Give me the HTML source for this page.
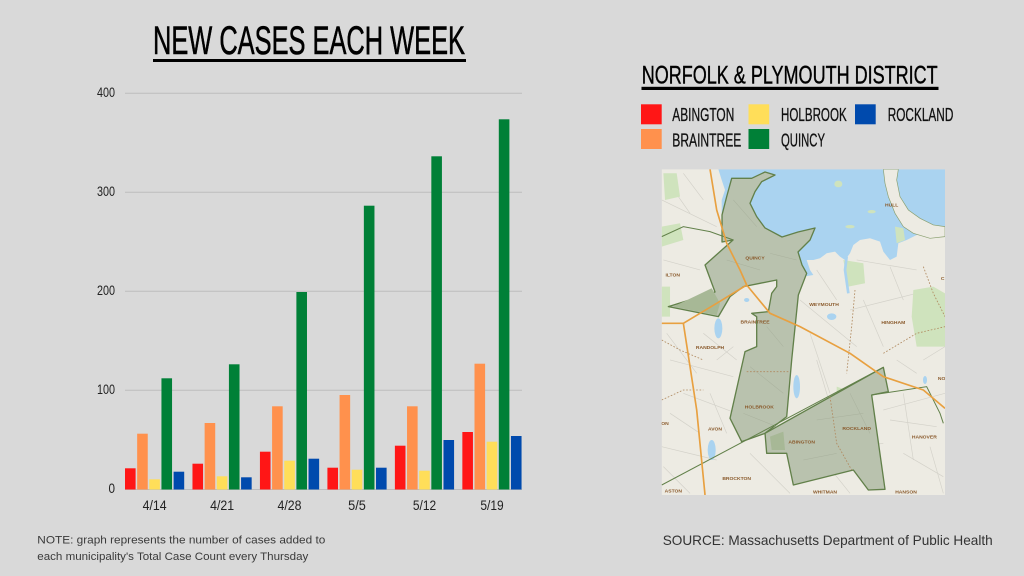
<!DOCTYPE html>
<html>
<head>
<meta charset="utf-8">
<style>
html,body{margin:0;padding:0;background:#d9d9d9;}
svg{display:block;}
</style>
</head>
<body>
<svg xmlns="http://www.w3.org/2000/svg" width="1024" height="576" viewBox="0 0 1024 576">
<rect width="1024" height="576" fill="#d9d9d9"/>

<!-- Title -->
<text x="153" y="54" font-family="Liberation Sans, sans-serif" font-size="40" textLength="312" lengthAdjust="spacingAndGlyphs" fill="#000" stroke="#000" stroke-width="0.6">NEW CASES EACH WEEK</text>
<rect x="153" y="59" width="313" height="3" fill="#000"/>

<!-- Gridlines -->
<g stroke="#bdbdbd" stroke-width="1">
<line x1="125" y1="93.3" x2="522" y2="93.3"/>
<line x1="125" y1="192.3" x2="522" y2="192.3"/>
<line x1="125" y1="291.3" x2="522" y2="291.3"/>
<line x1="125" y1="390.3" x2="522" y2="390.3"/>
<line x1="125" y1="489.5" x2="522" y2="489.5"/>
</g>

<!-- Y labels -->
<g font-family="Liberation Sans, sans-serif" font-size="14" fill="#222" text-anchor="end">
<text x="115" y="97" textLength="18" lengthAdjust="spacingAndGlyphs">400</text>
<text x="115" y="196" textLength="18" lengthAdjust="spacingAndGlyphs">300</text>
<text x="115" y="295" textLength="18" lengthAdjust="spacingAndGlyphs">200</text>
<text x="115" y="394" textLength="18" lengthAdjust="spacingAndGlyphs">100</text>
<text x="115" y="493" textLength="6.5" lengthAdjust="spacingAndGlyphs">0</text>
</g>

<!-- Bars -->
<g>
<rect x="125" y="468.3" width="10.6" height="21.2" fill="#ff1616"/>
<rect x="137.15" y="433.7" width="10.6" height="55.8" fill="#ff914d"/>
<rect x="149.3" y="479.3" width="10.6" height="10.2" fill="#ffde59"/>
<rect x="161.45" y="378.3" width="10.6" height="111.2" fill="#008037"/>
<rect x="173.6" y="471.7" width="10.6" height="17.8" fill="#004aad"/>

<rect x="192.47" y="463.7" width="10.6" height="25.8" fill="#ff1616"/>
<rect x="204.62" y="423" width="10.6" height="66.5" fill="#ff914d"/>
<rect x="216.77" y="476.3" width="10.6" height="13.2" fill="#ffde59"/>
<rect x="228.92" y="364.3" width="10.6" height="125.2" fill="#008037"/>
<rect x="241.07" y="477.3" width="10.6" height="12.2" fill="#004aad"/>

<rect x="259.94" y="451.7" width="10.6" height="37.8" fill="#ff1616"/>
<rect x="272.09" y="406.3" width="10.6" height="83.2" fill="#ff914d"/>
<rect x="284.24" y="460.7" width="10.6" height="28.8" fill="#ffde59"/>
<rect x="296.39" y="292" width="10.6" height="197.5" fill="#008037"/>
<rect x="308.54" y="458.7" width="10.6" height="30.8" fill="#004aad"/>

<rect x="327.41" y="467.7" width="10.6" height="21.8" fill="#ff1616"/>
<rect x="339.56" y="395" width="10.6" height="94.5" fill="#ff914d"/>
<rect x="351.71" y="469.7" width="10.6" height="19.8" fill="#ffde59"/>
<rect x="363.86" y="205.7" width="10.6" height="283.8" fill="#008037"/>
<rect x="376.01" y="467.7" width="10.6" height="21.8" fill="#004aad"/>

<rect x="394.88" y="445.7" width="10.6" height="43.8" fill="#ff1616"/>
<rect x="407.03" y="406.3" width="10.6" height="83.2" fill="#ff914d"/>
<rect x="419.18" y="470.7" width="10.6" height="18.8" fill="#ffde59"/>
<rect x="431.33" y="156.3" width="10.6" height="333.2" fill="#008037"/>
<rect x="443.48" y="440" width="10.6" height="49.5" fill="#004aad"/>

<rect x="462.35" y="432" width="10.6" height="57.5" fill="#ff1616"/>
<rect x="474.5" y="363.7" width="10.6" height="125.8" fill="#ff914d"/>
<rect x="486.65" y="441.7" width="10.6" height="47.8" fill="#ffde59"/>
<rect x="498.8" y="119.3" width="10.6" height="370.2" fill="#008037"/>
<rect x="510.95" y="436" width="10.6" height="53.5" fill="#004aad"/>
</g>

<!-- X labels -->
<g font-family="Liberation Sans, sans-serif" font-size="14" fill="#222" text-anchor="middle">
<text x="154.6" y="510" textLength="24" lengthAdjust="spacingAndGlyphs">4/14</text>
<text x="222.1" y="510" textLength="24" lengthAdjust="spacingAndGlyphs">4/21</text>
<text x="289.5" y="510" textLength="24" lengthAdjust="spacingAndGlyphs">4/28</text>
<text x="357" y="510" textLength="17.7" lengthAdjust="spacingAndGlyphs">5/5</text>
<text x="424.5" y="510" textLength="23.3" lengthAdjust="spacingAndGlyphs">5/12</text>
<text x="492" y="510" textLength="23.3" lengthAdjust="spacingAndGlyphs">5/19</text>
</g>

<!-- Note -->
<g font-family="Liberation Sans, sans-serif" font-size="11.4" fill="#3a3a3a">
<text x="37.3" y="543.3" textLength="288" lengthAdjust="spacingAndGlyphs">NOTE: graph represents the number of cases added to</text>
<text x="37.3" y="560" textLength="271" lengthAdjust="spacingAndGlyphs">each municipality's Total Case Count every Thursday</text>
</g>

<!-- Source -->
<text x="662.7" y="545" font-family="Liberation Sans, sans-serif" font-size="13.7" fill="#333" textLength="330" lengthAdjust="spacingAndGlyphs">SOURCE: Massachusetts Department of Public Health</text>

<!-- Legend title -->
<text x="641.7" y="83.3" font-family="Liberation Sans, sans-serif" font-size="25" textLength="296" lengthAdjust="spacingAndGlyphs" fill="#000" stroke="#000" stroke-width="0.4">NORFOLK &amp; PLYMOUTH DISTRICT</text>
<rect x="641.5" y="86.8" width="297" height="3.2" fill="#000"/>

<!-- Legend items -->
<rect x="641" y="104.3" width="20.7" height="20" fill="#ff1616"/>
<rect x="641" y="129" width="20.7" height="20" fill="#ff914d"/>
<rect x="748.5" y="104.3" width="20.7" height="20" fill="#ffde59"/>
<rect x="748.5" y="129" width="20.7" height="20" fill="#008037"/>
<rect x="855" y="104.3" width="20.7" height="20" fill="#004aad"/>
<g font-family="Liberation Sans, sans-serif" font-size="18.5" fill="#111" stroke="#111" stroke-width="0.3">
<text x="672.3" y="121" textLength="62" lengthAdjust="spacingAndGlyphs">ABINGTON</text>
<text x="672.3" y="146.7" textLength="69" lengthAdjust="spacingAndGlyphs">BRAINTREE</text>
<text x="781" y="121" textLength="65.7" lengthAdjust="spacingAndGlyphs">HOLBROOK</text>
<text x="781" y="146.7" textLength="44" lengthAdjust="spacingAndGlyphs">QUINCY</text>
<text x="887.7" y="121" textLength="65.7" lengthAdjust="spacingAndGlyphs">ROCKLAND</text>
</g>

<!-- Map -->
<svg x="661.7" y="169.3" width="283.3" height="325.7" viewBox="35 28 850 977" preserveAspectRatio="none">
<rect x="35" y="28" width="850" height="977" fill="#edebe3"/>
<!-- road texture -->
<g stroke="#d3d1c9" stroke-width="2" fill="none">
<path d="M35,120 L200,200 M60,600 L250,650 M450,420 L620,560 M600,450 L800,400 M700,750 L885,700 M480,880 L700,850 M100,700 L260,760 M35,860 L200,900 M620,300 L800,330 M820,600 L885,560 M500,600 L560,800 M300,880 L420,1000 M760,880 L880,950"/>
<path d="M40,300 L150,330 M50,520 L140,640 M160,520 L260,600 M180,700 L230,820 M60,760 L150,820 M40,920 L120,1000 M500,330 L560,420 M480,520 L540,700 M640,420 L700,560 M720,320 L760,420 M820,480 L880,520 M740,600 L800,640 M720,780 L860,800 M760,700 L790,900 M840,860 L880,1000 M520,900 L600,1000 M200,600 L250,560 M100,40 L160,120 M50,60 L120,160"/>
</g>
<!-- green parks -->
<g fill="#cfe3bd">
<polygon points="790,390 850,380 885,400 885,560 800,560 785,470"/>
<polygon points="35,380 60,380 60,470 35,470"/>
<polygon points="580,300 640,310 645,370 595,380"/>
<polygon points="35,200 90,190 100,240 35,260"/>
<polygon points="560,680 620,700 600,760 560,740"/>
<polygon points="40,40 80,40 90,110 45,120"/>
</g>
<!-- water -->
<polygon fill="#aad3f0" points="205,28 885,28 885,215 850,215 800,225 770,240 745,250 740,290 720,300 700,275 690,245 660,235 630,240 610,255 600,280 585,300 570,290 555,275 530,280 510,295 490,300 470,300 480,330 490,345 460,350 440,335 430,310 410,290 390,270 370,260 350,240 330,210 310,180 290,160 250,150 230,170 215,160 215,120 225,90 215,60"/>
<!-- Hull strip -->
<polygon fill="#edebe3" stroke="#8aa070" stroke-width="2" points="700,28 745,28 740,60 750,110 775,150 810,175 850,195 885,200 885,230 840,235 790,220 760,200 735,160 715,110 705,70"/>
<polygon fill="#cfe3bd" points="735,200 760,205 765,240 740,250"/>
<g fill="#cfe3bd">
<ellipse cx="565" cy="72" rx="12" ry="10"/>
<ellipse cx="665" cy="155" rx="12" ry="5"/>
<ellipse cx="600" cy="200" rx="14" ry="5"/>
</g>
<!-- inland water -->
<g fill="#aad3f0">
<ellipse cx="205" cy="505" rx="12" ry="30"/>
<ellipse cx="440" cy="680" rx="10" ry="35"/>
<ellipse cx="545" cy="470" rx="14" ry="10"/>
<ellipse cx="185" cy="870" rx="12" ry="30"/>
<ellipse cx="825" cy="660" rx="6" ry="12"/>
<ellipse cx="290" cy="420" rx="8" ry="6"/>
</g>
<polyline fill="none" stroke="#aad3f0" stroke-width="8" points="590,290 585,330 595,400"/>
<!-- shaded districts -->
<g fill="#b9c2ae" stroke="#62804a" stroke-width="4" stroke-linejoin="round">
<polygon points="245,55 305,55 345,36 375,45 335,65 315,95 300,130 320,170 345,204 396,231 444,216 495,204 480,240 444,276 456,315 470,340 445,405 425,600 410,770 345,820 275,845 240,775 285,575 320,560 320,470 305,460 355,455 365,400 380,380 380,360 330,370 280,380 240,410 205,470 55,440 195,396 165,315 249,240 216,246 216,165 230,110"/>
<polygon points="345,820 700,622 715,695 665,705 705,988 655,990 610,930 430,975 410,880 350,880"/>
</g>
<g fill="#a7b896">
<polygon points="70,440 185,385 210,430 200,465"/>
<polygon points="360,830 400,815 405,870 365,870"/>
</g>
<g stroke="#a9b19d" stroke-width="1.5" fill="none">
<path d="M250,120 L320,200 M230,300 L330,330 M350,500 L400,560 M300,620 L400,700 M280,760 L380,800 M460,900 L560,880 M600,700 L660,820 M500,780 L640,760 M360,280 L440,300"/>
</g>
<!-- borders -->
<g fill="none" stroke="#62804a" stroke-width="3">
<line x1="35" y1="975" x2="700" y2="622"/>
<polyline points="665,705 830,680 870,760 880,790"/>
<polyline points="35,230 100,200 180,215 250,240"/>
</g>
<g fill="none" stroke="#b08a60" stroke-width="2.5" stroke-dasharray="5,5">
<polyline points="615,390 605,500 590,640"/>
<polyline points="820,320 850,400 885,470"/>
<polyline points="35,540 90,570 160,600"/>
<polyline points="35,720 100,690 160,690"/>
<polyline points="290,635 420,635"/>
<polyline points="540,710 560,850 605,930"/>
<polyline points="700,580 800,520 885,500"/>
</g>
<!-- roads -->
<g fill="none" stroke="#e8a040" stroke-width="5" stroke-linejoin="round">
<polyline points="180,28 200,150 230,250 270,330 290,375"/>
<polyline points="290,375 360,460 450,500 600,580 700,650 820,690 885,745"/>
<polyline points="35,490 100,490 200,430 290,375"/>
<polyline points="100,490 120,620 140,750 165,1005"/>
</g>
<!-- labels -->
<g font-family="Liberation Sans, sans-serif" font-size="15" font-weight="bold" fill="#8a5a2c" text-anchor="middle">
<text x="315" y="298">QUINCY</text>
<text x="522" y="438">WEYMOUTH</text>
<text x="730" y="492">HINGHAM</text>
<text x="315" y="490">BRAINTREE</text>
<text x="180" y="567">RANDOLPH</text>
<text x="328" y="745">HOLBROOK</text>
<text x="195" y="811">AVON</text>
<text x="455" y="851">ABINGTON</text>
<text x="620" y="810">ROCKLAND</text>
<text x="823" y="836">HANOVER</text>
<text x="260" y="960">BROCKTON</text>
<text x="525" y="1000">WHITMAN</text>
<text x="768" y="1000">HANSON</text>
<text x="725" y="140">HULL</text>
<text x="68" y="350">ILTON</text>
<text x="70" y="998">ASTON</text>
<text x="45" y="795">ON</text>
<text x="878" y="360">C</text>
<text x="875" y="660">NO</text>
</g>
</svg>
</svg>
</body>
</html>
